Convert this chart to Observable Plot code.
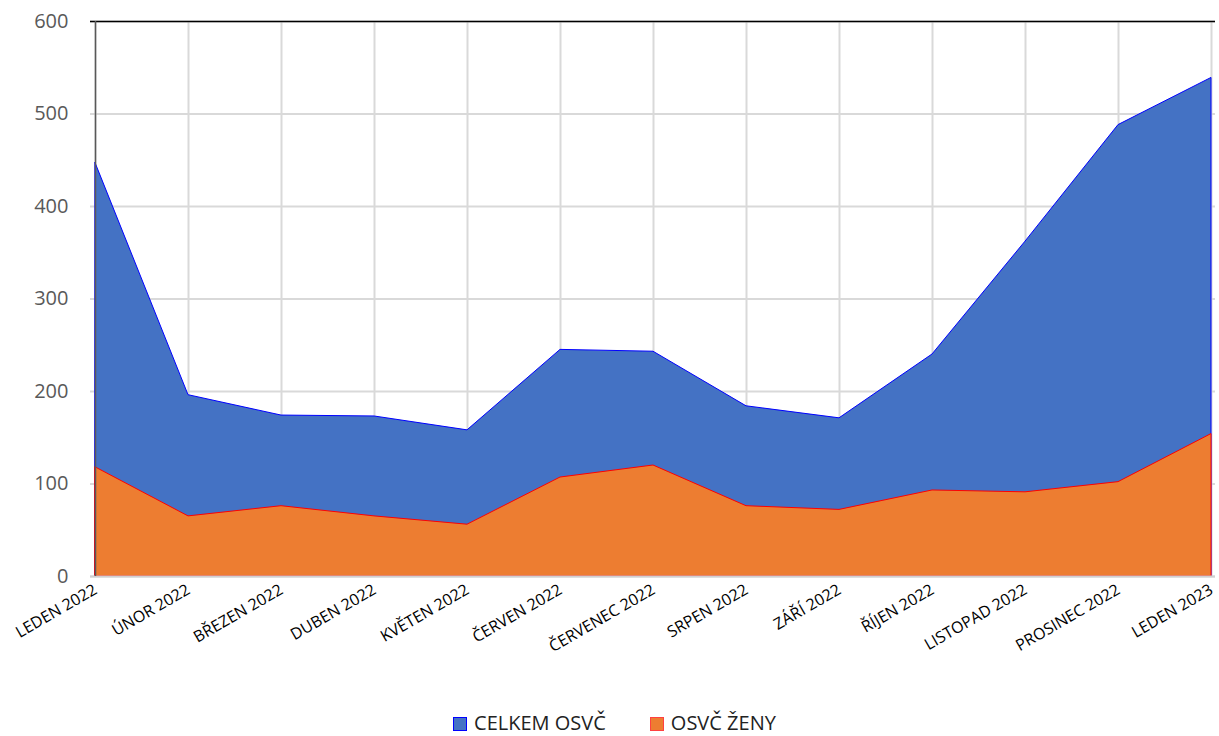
<!DOCTYPE html>
<html><head><meta charset="utf-8">
<script src="https://cdn.jsdelivr.net/npm/d3@7"></script>
<script src="https://cdn.jsdelivr.net/npm/@observablehq/plot@0.6"></script>
<style>
body{margin:0;background:#fff;font-family:"Open Sans","Noto Sans",sans-serif;}
#legend{display:flex;justify-content:center;gap:44px;font-size:20px;color:#222;height:40px;align-items:center;margin-top:22px;margin-left:10px}
#legend span.sw{display:inline-block;width:12px;height:12px;margin-right:7px;vertical-align:-1px;border:1.5px solid}
</style></head>
<body><div id="chart"></div><div id="legend"></div>
<script>
const months = ["LEDEN 2022","ÚNOR 2022","BŘEZEN 2022","DUBEN 2022","KVĚTEN 2022","ČERVEN 2022","ČERVENEC 2022","SRPEN 2022","ZÁŘÍ 2022","ŘÍJEN 2022","LISTOPAD 2022","PROSINEC 2022","LEDEN 2023"];
const celkem = [447,196,174,173,158,245,243,184,171,240,362,488,539];
const zeny   = [118,65,76,65,56,107,120,76,72,93,91,102,154];
const seriesNames = ["CELKEM OSVČ","OSVČ ŽENY"];
const yTicks = [0,100,200,300,400,500,600];

const data = months.flatMap((m,i)=>[
  {month:m, series:seriesNames[0], value:celkem[i]},
  {month:m, series:seriesNames[1], value:zeny[i]}
]);

const chart = Plot.plot({
  width:1219, height:680,
  marginLeft:90, marginRight:4, marginTop:21, marginBottom:104,
  style:{fontFamily:"'Open Sans','Noto Sans',sans-serif"},
  x:{type:"point", domain:months, padding:0},
  y:{domain:[0,600], ticks:yTicks},
  marks:[
    Plot.gridX(months,{stroke:"#d9d9d9", strokeOpacity:1, strokeWidth:2}),
    Plot.gridY(yTicks,{stroke:"#d9d9d9", strokeOpacity:1, strokeWidth:2}),
    Plot.areaY(data.filter(d=>d.series===seriesNames[0]),{x:"month", y:"value", fill:"#4472C4", stroke:"#0000ff", strokeWidth:1}),
    Plot.areaY(data.filter(d=>d.series===seriesNames[1]),{x:"month", y:"value", fill:"#ED7D31", stroke:"#ff0000", strokeWidth:1}),
    Plot.ruleY([0],{stroke:"#d0d0d0", strokeWidth:2}),
    Plot.ruleY([600],{stroke:"#000", strokeWidth:1.5}),
    Plot.ruleX([months[0]],{stroke:"#595959", strokeWidth:1.5}),
    Plot.axisY({ticks:yTicks, tickSize:0, tickPadding:22, fontSize:20, color:"#595959", label:null}),
    Plot.axisX({tickSize:0, tickRotate:-30, tickPadding:12, fontSize:16, label:null, color:"#000"})
  ]
});
document.getElementById("chart").appendChild(chart);

const colors = [["#4472C4","#0000ff"],["#ED7D31","#ff4040"]];
document.getElementById("legend").innerHTML = seriesNames.map((s,i)=>
  `<div><span class="sw" style="background:${colors[i][0]};border-color:${colors[i][1]}"></span>${s}</div>`).join("");
</script></body></html>
